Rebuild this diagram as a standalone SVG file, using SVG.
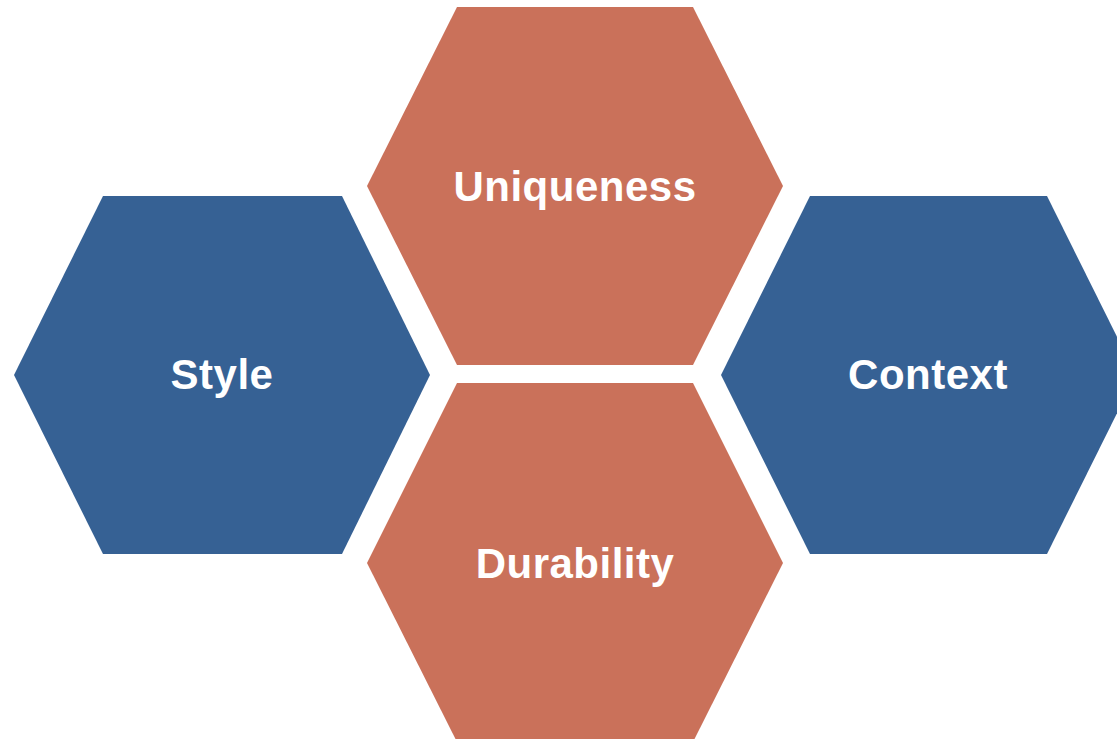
<svg xmlns="http://www.w3.org/2000/svg" width="1117" height="739" viewBox="0 0 1117 739">
<style>
.blue{fill:#366194}
.orange{fill:#CA715A}
.lbl{font-family:"Liberation Sans",Arial,sans-serif;font-weight:bold;font-size:42px;fill:#ffffff;text-anchor:middle;letter-spacing:0.5px}
</style>
<rect width="1117" height="739" fill="#ffffff"/>
<g id="style">
<polygon class="blue" points="103,196 342,196 430,375 342,554 103,554 14,375"/>
<text class="lbl" x="222" y="389">Style</text>
</g>
<g id="uniqueness">
<polygon class="orange" points="457,7 693,7 783,186 693,365 457,365 367,186"/>
<text class="lbl" x="575" y="201">Uniqueness</text>
</g>
<g id="context">
<polygon class="blue" points="810,196 1047,196 1136,375 1047,554 810,554 721,375"/>
<text class="lbl" x="928" y="389">Context</text>
</g>
<g id="durability">
<polygon class="orange" points="457,383 693,383 783,563 693,742 457,742 367,563"/>
<text class="lbl" x="575" y="578">Durability</text>
</g>
<g id="connectors"></g>
</svg>
